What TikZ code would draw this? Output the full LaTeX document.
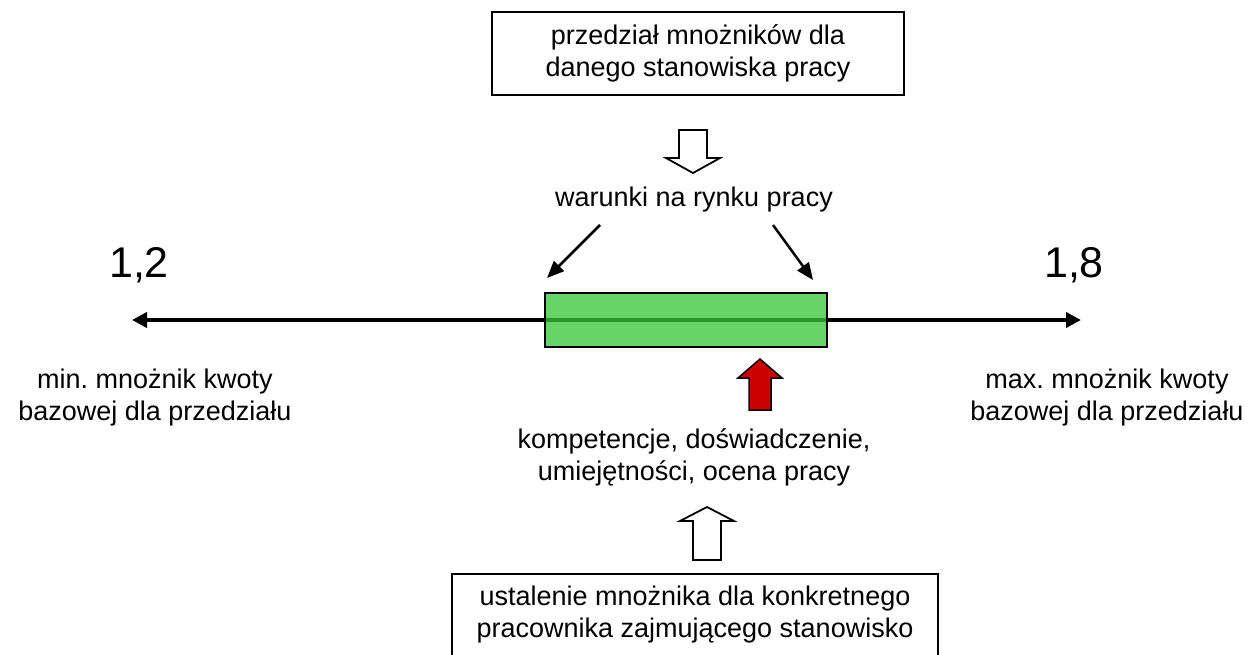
\documentclass[tikz,border=0pt]{standalone}
\usepackage{fontspec}
\setmainfont{Liberation Sans}
\usetikzlibrary{arrows.meta}
\frenchspacing
\definecolor{rangegreen}{rgb}{0.21,0.78,0.21}
\definecolor{arrowred}{rgb}{0.80,0,0}
\tikzset{
  txt/.style={font=\fontsize{27}{32}\selectfont, align=center, inner sep=0pt},
  bigtxt/.style={font=\fontsize{43}{46}\selectfont, inner sep=0pt},
  framebox/.style={draw, line width=2pt, txt},
  hollow/.style={draw, line width=1.8pt, fill=white, line join=miter},
  axis/.style={line width=4pt, {Triangle[length=15pt,width=15pt]}-{Triangle[length=15pt,width=15pt]}},
  thin arrow/.style={line width=2.5pt, -{Triangle[length=17pt,width=14pt]}}
}
\begin{document}
\begin{tikzpicture}[x=1pt,y=-1pt]
\useasboundingbox (0,0) rectangle (1253,654);

% top frame
\node[framebox, minimum width=412pt, minimum height=83pt] (topbox) at (698,53.5)
  {przedział mnożników dla\\danego stanowiska pracy};

% hollow arrow pointing down
\draw[hollow] (679,130) -- (707,130) -- (707,158) -- (720,158) -- (693,173)
  -- (666,158) -- (679,158) -- cycle;

\node[txt] (market) at (694,200) {warunki na rynku pracy};

% range end labels
\node[bigtxt] (lo) at (139,265) {1,2};
\node[bigtxt] (hi) at (1074,265) {1,8};

% axis
\coordinate (axL) at (132,320);
\coordinate (axR) at (1081,320);
\draw[axis] (axL) -- (axR);

% range box, see-through
\node[draw=black, line width=2.5pt, fill=rangegreen, fill opacity=0.76, draw opacity=1,
  minimum width=282pt, minimum height=54pt, inner sep=0pt] (range) at (686,320) {};

% arrows from market conditions
\coordinate (mL) at (600,225);
\coordinate (mR) at (773,225);
\coordinate (tL) at (547,278);
\coordinate (tR) at (813,280);
\draw[thin arrow] (mL) -- (tL);
\draw[thin arrow] (mR) -- (tR);

% end descriptions
\node[txt] (minlbl) at (155,398) {min. mnożnik kwoty\\bazowej dla przedziału};
\node[txt] (maxlbl) at (1107,398) {max. mnożnik kwoty\\bazowej dla przedziału};

% red arrow pointing up
\draw[draw=black, line width=1.5pt, fill=arrowred] (749,410) -- (749,378) -- (738,378)
  -- (760,359) -- (782,378) -- (771,378) -- (771,410) -- cycle;

\node[txt] (komp) at (694,457) {kompetencje, doświadczenie,\\umiejętności, ocena pracy};

% hollow arrow pointing up
\draw[hollow] (693,560) -- (693,521) -- (680,521) -- (707,507) -- (734,521)
  -- (721,521) -- (721,560) -- cycle;

% bottom frame
\node[framebox, minimum width=486pt, minimum height=82pt] (botbox) at (695,615)
  {ustalenie mnożnika dla konkretnego\\pracownika zajmującego stanowisko};
\end{tikzpicture}
\end{document}
